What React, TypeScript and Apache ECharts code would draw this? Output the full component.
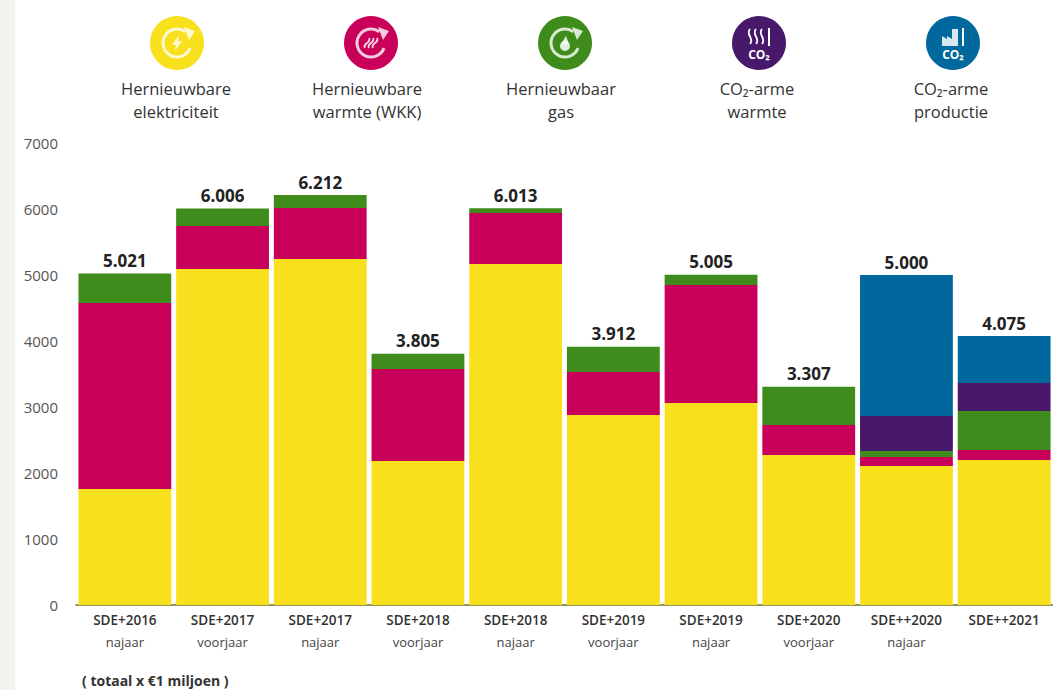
import React, { useEffect, useRef } from "react";
import * as echarts from "echarts";

const editions = ["SDE+2016", "SDE+2017", "SDE+2017", "SDE+2018", "SDE+2018", "SDE+2019", "SDE+2019", "SDE+2020", "SDE++2020", "SDE++2021"];
const rounds = ["najaar", "voorjaar", "najaar", "voorjaar", "najaar", "voorjaar", "najaar", "voorjaar", "najaar", ""];
const elektriciteit = [1758, 5090, 5242, 2182, 5167, 2879, 3060, 2273, 2106, 2197];
const warmteWkk = [2818, 652, 773, 1394, 772, 651, 1788, 454, 136, 151];
const gas = [445, 264, 197, 229, 74, 382, 157, 580, 91, 591];
const co2Warmte = [0, 0, 0, 0, 0, 0, 0, 0, 531, 425];
const co2Productie = [0, 0, 0, 0, 0, 0, 0, 0, 2136, 711];
const totals = [5021, 6006, 6212, 3805, 6013, 3912, 5005, 3307, 5000, 4075];
const totalLabels = ["5.021", "6.006", "6.212", "3.805", "6.013", "3.912", "5.005", "3.307", "5.000", "4.075"];
const seriesNames = ["Hernieuwbare elektriciteit", "Hernieuwbare warmte (WKK)", "Hernieuwbaar gas", "CO₂-arme warmte", "CO₂-arme productie"];
const colors = ["#f8e11c", "#c9005a", "#3f8c1d", "#48186a", "#00689d"];
const legendLines = [
  ["Hernieuwbare", "elektriciteit"],
  ["Hernieuwbare", "warmte (WKK)"],
  ["Hernieuwbaar", "gas"],
  ["CO₂-arme", "warmte"],
  ["CO₂-arme", "productie"],
];
const iconX = [177, 371, 565, 759, 953];
const textX = [176, 367, 561, 757, 951];

const FONT = "'Open Sans', sans-serif";

function cycleGlyph(cx: number, cy: number) {
  return [
    {
      type: "arc",
      shape: { cx, cy, r: 14, startAngle: Math.PI * 0.12, endAngle: -Math.PI * 0.3, clockwise: true },
      style: { stroke: "#fff", fill: "none", lineWidth: 3, opacity: 0.8 },
      silent: true,
    },
    {
      type: "polygon",
      shape: { points: [[cx + 7, cy - 16], [cx + 18, cy - 12], [cx + 12, cy - 3]] },
      style: { fill: "#fff", opacity: 0.8 },
      silent: true,
    },
  ];
}

function innerGlyph(i: number, cx: number, cy: number): any[] {
  if (i === 0) {
    return [{
      type: "polygon",
      shape: { points: [[cx + 2, cy - 8], [cx - 5, cy + 2], [cx - 1, cy + 2], [cx - 2, cy + 8], [cx + 5, cy - 2], [cx + 1, cy - 2]] },
      style: { fill: "#fff", opacity: 0.8 }, silent: true,
    }];
  }
  if (i === 1) {
    return [-4, 0, 4].map((d) => ({
      type: "bezierCurve",
      shape: { x1: cx + d - 2, y1: cy + 5, x2: cx + d + 2, y2: cy - 5, cpx1: cx + d - 5, cpy1: cy, cpx2: cx + d + 5, cpy2: cy },
      style: { stroke: "#fff", fill: "none", lineWidth: 1.8, opacity: 0.85 }, silent: true,
    }));
  }
  return [
    { type: "circle", shape: { cx, cy: cy + 3, r: 5 }, style: { fill: "#fff", opacity: 0.85 }, silent: true },
    { type: "polygon", shape: { points: [[cx - 4, cy + 1], [cx + 1, cy - 7], [cx + 4, cy + 1]] }, style: { fill: "#fff", opacity: 0.85 }, silent: true },
  ];
}

function co2Glyph(i: number, cx: number, cy: number): any[] {
  const parts: any[] = [
    { type: "text", style: { x: cx, y: cy + 11, text: "CO₂", fill: "#fff", font: `700 12px ${FONT}`, align: "center", verticalAlign: "middle" }, silent: true },
    { type: "line", shape: { x1: cx + 10, y1: cy - 15, x2: cx + 10, y2: cy + 3 }, style: { stroke: "#fff", lineWidth: 2 }, silent: true },
  ];
  if (i === 3) {
    [-10, -4, 2].forEach((d) => parts.push({
      type: "bezierCurve",
      shape: { x1: cx + d + 1, y1: cy - 14, x2: cx + d + 1, y2: cy + 1, cpx1: cx + d - 4, cpy1: cy - 8, cpx2: cx + d + 6, cpy2: cy - 5 },
      style: { stroke: "#fff", fill: "none", lineWidth: 1.8 }, silent: true,
    }));
  } else {
    parts.push({
      type: "polygon",
      shape: { points: [[cx - 11, cy + 3], [cx - 11, cy - 7], [cx - 6, cy - 4], [cx - 6, cy - 7], [cx - 1, cy - 4], [cx - 1, cy - 14], [cx + 5, cy - 14], [cx + 5, cy + 3]] },
      style: { fill: "#fff", opacity: 0.85 }, silent: true,
    });
  }
  return parts;
}

export default function App() {
  const ref = useRef<HTMLDivElement>(null);
  useEffect(() => {
    document.body.style.margin = "0";
    const chart = echarts.init(ref.current!, undefined, { renderer: "svg" });

    const stacks = [elektriciteit, warmteWkk, gas, co2Warmte, co2Productie];
    const graphics: any[] = [
      { type: "rect", z: -1, shape: { x: 0, y: 0, width: 15, height: 690 }, style: { fill: "#f3f3ee" }, silent: true },
      { type: "text", style: { x: 82, y: 680, text: "( totaal x €1 miljoen )", fill: "#333", font: `700 14px ${FONT}`, align: "left", verticalAlign: "middle" }, silent: true },
    ];
    colors.forEach((c, i) => {
      const cx = iconX[i];
      const cy = 43;
      graphics.push({ type: "circle", shape: { cx, cy, r: 27 }, style: { fill: c }, silent: true });
      if (i < 3) {
        graphics.push(...cycleGlyph(cx, cy), ...innerGlyph(i, cx, cy));
      } else {
        graphics.push(...co2Glyph(i, cx, cy));
      }
      legendLines[i].forEach((t, j) => {
        graphics.push({
          type: "text",
          style: { x: textX[i], y: 88 + j * 23, text: t, fill: "#333", font: `400 16.5px ${FONT}`, align: "center", verticalAlign: "middle" },
          silent: true,
        });
      });
    });

    chart.setOption({
      animation: false,
      backgroundColor: "#fff",
      textStyle: { fontFamily: FONT },
      grid: { left: 76, top: 143, width: 979, height: 462, containLabel: false },
      graphic: graphics,
      xAxis: {
        type: "category",
        data: editions.map((e, i) => `${i}`),
        axisTick: { show: false },
        axisLine: { lineStyle: { color: "#77701a", width: 1.5 } },
        axisLabel: {
          interval: 0,
          margin: 4,
          formatter: (v: string) => {
            const i = Number(v);
            return rounds[i] ? `{a|${editions[i]}}\n{b|${rounds[i]}}` : `{a|${editions[i]}}`;
          },
          rich: {
            a: { fontFamily: FONT, fontSize: 13.5, fontWeight: 600, color: "#333", lineHeight: 22 },
            b: { fontFamily: FONT, fontSize: 13, color: "#444", lineHeight: 22 },
          },
        },
      },
      yAxis: {
        type: "value",
        min: 0,
        max: 7000,
        interval: 1000,
        axisLine: { show: false },
        axisTick: { show: false },
        splitLine: { show: false },
        axisLabel: { fontFamily: FONT, fontSize: 15, color: "#555", margin: 18, formatter: (v: number) => String(v) },
      },
      series: [
        ...stacks.map((d, i) => ({
          type: "bar",
          name: seriesNames[i],
          stack: "total",
          data: d,
          barCategoryGap: "5%",
          itemStyle: { color: colors[i] },
        })),
        {
          type: "line",
          name: "Totaal",
          data: totals,
          symbol: "circle",
          symbolSize: 1,
          showSymbol: true,
          silent: true,
          z: 5,
          itemStyle: { color: "rgba(0,0,0,0)" },
          lineStyle: { color: "rgba(0,0,0,0)", width: 0 },
          label: {
            show: true,
            position: "top",
            distance: 4,
            fontFamily: FONT,
            fontSize: 17,
            fontWeight: 700,
            color: "#222",
            formatter: (p: any) => totalLabels[p.dataIndex],
          },
        },
      ],
    });
    return () => chart.dispose();
  }, []);
  return <div ref={ref} style={{ width: 1053, height: 690 }} />;
}
